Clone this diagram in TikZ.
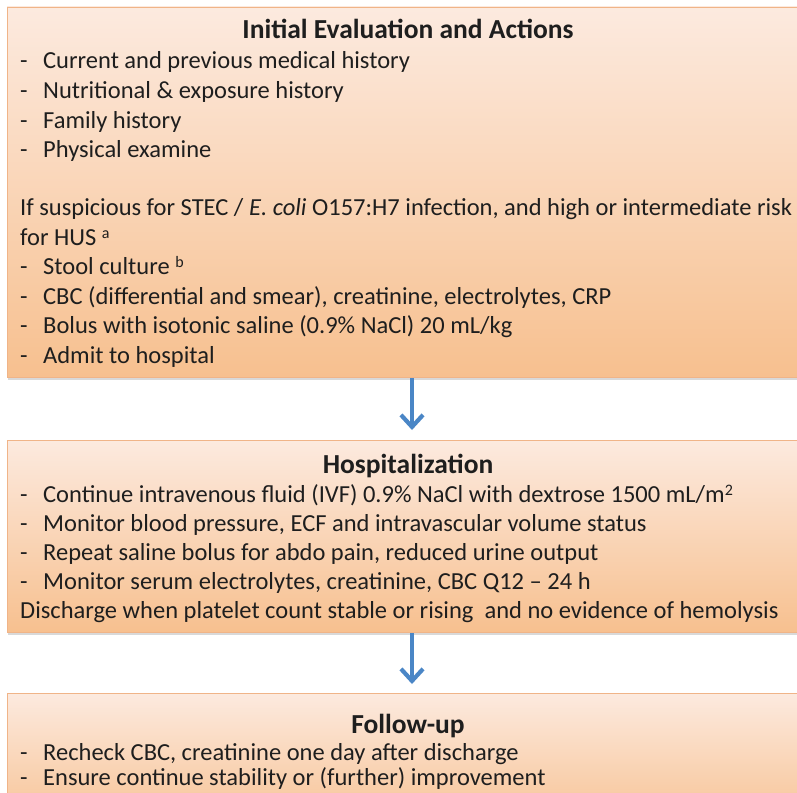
\documentclass[tikz,border=0pt]{standalone}
\usepackage{fontspec}
\setmainfont{Carlito}
\usetikzlibrary{arrows.meta,shadows,calc}
\definecolor{boxtop}{HTML}{FCEADF}
\definecolor{boxbot}{HTML}{F7C08F}
\definecolor{boxline}{HTML}{F0B488}
\definecolor{arrowblue}{HTML}{4A86C6}
\definecolor{txtcol}{HTML}{1E1E1E}
\tikzset{
  flowbox/.style={rectangle, draw=boxline, line width=0.9pt, top color=boxtop, bottom color=boxbot,
    inner sep=0pt, outer sep=0pt, minimum width=801pt,
    drop shadow={shadow xshift=1pt, shadow yshift=-3pt, opacity=0.25, fill=black!60}},
  txt/.style={anchor=base west, inner sep=0pt, text=txtcol, font=\fontsize{24.5}{29}\selectfont},
  ttl/.style={anchor=base, inner sep=0pt, text=txtcol, font=\fontsize{27.5}{32}\selectfont\bfseries},
  flowarrow/.style={draw=arrowblue, line width=4.2pt, -{Straight Barb[length=12pt,width=22pt,line width=4.2pt]}}
}
\newcommand{\itm}{\makebox[23pt][l]{-}}
\newcommand{\sups}[1]{\raisebox{6.5pt}{\fontsize{16}{16}\selectfont #1}}
\begin{document}
\begin{tikzpicture}[x=1pt,y=-1pt]
\useasboundingbox (0,0) rectangle (797,792);
\begin{scope}
\clip (0,0) rectangle (797,792);
% boxes
\node[flowbox, minimum height=370pt] (b1) at (407.5,192) {};
\node[flowbox, minimum height=192pt] (b2) at (407.5,536) {};
\node[flowbox, minimum height=140pt] (b3) at (407.5,763) {};
\end{scope}
% box 1 text
\node[ttl] (t1) at (408,39) {Initial Evaluation and Actions};
\node[txt] (l11) at (20,68) {\itm Current and previous medical history};
\node[txt] (l12) at (20,98) {\itm Nutritional \& exposure history};
\node[txt] (l13) at (20,128) {\itm Family history};
\node[txt] (l14) at (20,157) {\itm Physical examine};
\node[txt] (l15) at (20,215) {If suspicious for STEC / \textit{E. coli} O157:H7 infection, and high or intermediate risk};
\node[txt] (l16) at (20,245) {for HUS \sups{a}};
\node[txt] (l17) at (20,274) {\itm Stool culture \sups{b}};
\node[txt] (l18) at (20,304) {\itm CBC (differential and smear), creatinine, electrolytes, CRP};
\node[txt] (l19) at (20,333) {\itm Bolus with isotonic saline (0.9\% NaCl) 20 mL/kg};
\node[txt] (l110) at (20,363) {\itm Admit to hospital};
% box 2 text
\node[ttl] (t2) at (408,473) {Hospitalization};
\node[txt] (l21) at (20,502) {\itm Continue intravenous fluid (IVF) 0.9\% NaCl with dextrose 1500 mL/m\sups{2}};
\node[txt] (l22) at (20,531) {\itm Monitor blood pressure, ECF and intravascular volume status};
\node[txt] (l23) at (20,560) {\itm Repeat saline bolus for abdo pain, reduced urine output};
\node[txt] (l24) at (20,589) {\itm Monitor serum electrolytes, creatinine, CBC Q12 -- 24 h};
\node[txt] (l25) at (20,618) {Discharge when platelet count stable or rising\ \ and no evidence of hemolysis};
% box 3 text
\node[ttl] (t3) at (408,733) {Follow-up};
\node[txt] (l31) at (20,760) {\itm Recheck CBC, creatinine one day after discharge};
\node[txt] (l32) at (20,785) {\itm Ensure continue stability or (further) improvement};
% arrows
\draw[flowarrow, shorten <=1pt, shorten >=10pt] ($(b1.south)+(4.5,0)$) -- ($(b2.north)+(4.5,0)$);
\draw[flowarrow, shorten <=1pt, shorten >=9pt] ($(b2.south)+(4.5,0)$) -- ($(b3.north)+(4.5,0)$);
\end{tikzpicture}
\end{document}
